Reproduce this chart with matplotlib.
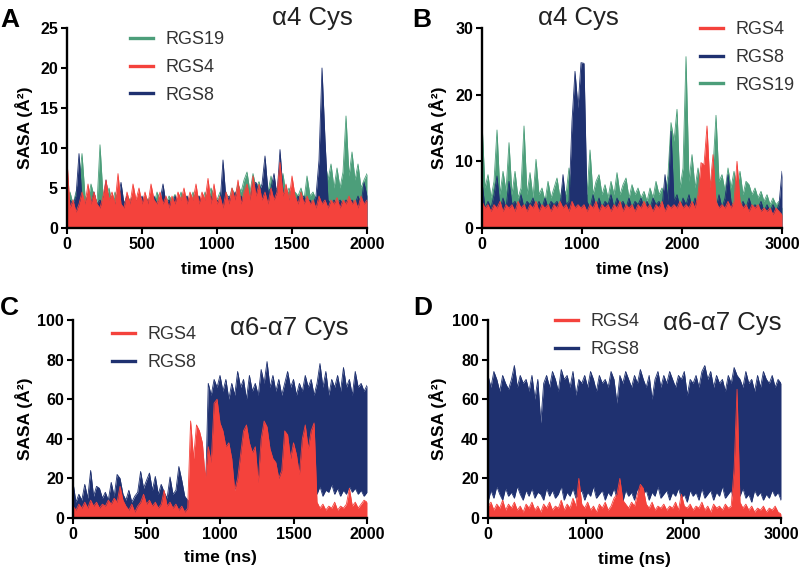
import numpy as np
import matplotlib.pyplot as plt

plt.rcParams['font.family'] = ['Liberation Sans', 'DejaVu Sans']

RED = '#f4423c'
NAVY = '#1f3170'
GREEN = '#4c9e7a'

# ---- panel A : alpha4 Cys, 2000 ns (sampled every 20 ns) ----
a_rgs4 = [8.5, 2.5, 3.5, 2, 3, 4.5, 3, 5.5, 3, 4.5,
          3, 2.5, 4, 6, 3.5, 4.5, 3, 6.8, 3, 2.5,
          4.5, 3, 5.5, 3.5, 5, 3, 4.5, 3, 5.5, 3.5,
          3, 4.5, 3, 4, 2.5, 4, 3, 4.5, 3.5, 5,
          3, 4.5, 3.5, 5.5, 3, 4.5, 3.5, 6.2, 3, 5.5,
          3, 4, 2.5, 4.5, 3, 5, 3.5, 6, 3, 4.5,
          5.5, 3.5, 6.5, 4, 5.5, 3.5, 4.5, 3, 5, 3.5,
          4.5, 8.2, 4, 5.5, 3.5, 6.5, 4, 3, 4.5, 3,
          4, 3, 3.5, 2.5, 4, 3, 3.5, 2.5, 3.5, 3,
          3.8, 2.5, 3.5, 3, 4, 3, 3.5, 2.5, 4, 3,
          3.5]
a_rgs19 = [3, 4.5, 3, 4.5, 5.5, 9.3, 4, 3.5, 5.5, 4,
           3, 10.4, 4, 3.5, 5, 3, 4.5, 3.5, 4, 3,
           4, 3.5, 4, 3, 4.2, 3, 4, 3.5, 4, 3,
           4.5, 3.5, 4, 3, 4, 3.5, 4.2, 3, 4.5, 3.5,
           4, 3, 4.5, 3.5, 4, 3, 4.5, 3.5, 5, 4,
           3.5, 4.5, 3, 4.5, 3.5, 5, 4, 5.5, 4.5, 6,
           7, 4.5, 6.8, 5, 5.8, 4.5, 5.5, 4.5, 6.5, 4.5,
           5, 4.5, 6.8, 4, 5, 4, 4.5, 4, 5, 3.5,
           6.5, 4, 4.5, 3.5, 5, 4, 8.5, 6, 8, 5,
           7.5, 5, 7, 14, 6.5, 9.5, 6, 8, 5, 6,
           6.8]
a_rgs8 = [3, 3.5, 3, 4, 9.3, 3.5, 3, 4, 3, 4.5,
          3, 3.5, 3, 6, 3, 4, 3, 3.5, 5.7, 3,
          4, 3, 4, 3.5, 3, 4, 3, 3.5, 3, 4,
          3, 3.5, 5.5, 3, 3.5, 3, 4, 3, 3.5, 3,
          4, 3, 3.5, 3, 4, 3, 3.5, 3, 4, 3,
          3.5, 3, 8.5, 3.5, 4, 3, 4.5, 3.5, 4, 3.5,
          4.5, 3.5, 5.5, 5.7, 4.5, 5.5, 9, 4.5, 5, 6.8,
          4, 9.8, 4.5, 4, 3.5, 4, 3, 4, 3.5, 4,
          3, 3.5, 3, 4, 8.5, 20, 11, 3.5, 3, 3.5,
          3, 3.5, 3, 3.5, 3, 3.5, 3, 4, 3, 5.7,
          4]

# ---- panel B : alpha4 Cys, 3000 ns (sampled every 30 ns) ----
b_rgs4 = [4, 3, 3.5, 2.5, 3.5, 3, 4, 2.5, 3.5, 3,
          3.5, 2.5, 4, 3, 3.5, 2.5, 3.5, 3, 4, 2.5,
          3.5, 3, 3.5, 2.5, 3.5, 3, 4, 3, 3.5, 2.5,
          4, 3, 3.5, 3, 3.5, 2.5, 3.5, 3, 4, 2.5,
          3.5, 3, 3.5, 2.5, 3.5, 3, 4, 2.5, 3.5, 3,
          3.5, 2.5, 3.5, 3, 4, 3, 3.5, 2.5, 3.5, 3,
          4, 2.5, 3.5, 3, 3.5, 3, 4, 3, 3.5, 3,
          4, 3, 5, 9.8, 9.5, 15.3, 6, 11, 4, 3,
          3.5, 3, 4, 3, 4, 10, 4, 3, 3.5, 2.5,
          3.5, 3, 3.5, 2.5, 3, 2.5, 3, 2, 3, 2.5,
          2]
b_rgs19 = [16, 6, 8, 4.5, 7, 14.7, 5, 8.5, 5.5, 12.8,
           5, 8.5, 4.5, 6, 15.3, 5, 8.3, 4.5, 10.3, 5,
           6, 4, 7, 4.5, 6, 7.5, 4.5, 6.5, 5, 9,
           5, 4.5, 5, 4.5, 6, 5, 11.7, 5, 7, 8,
           5, 6.5, 4.5, 7, 5, 8.3, 5, 6.5, 7.5, 4.5,
           6.5, 5, 6, 4.5, 5.5, 4, 6, 4.5, 7, 5,
           6, 5, 8, 15.8, 13, 17.8, 6, 9, 25.7, 7,
           11, 6, 9, 6, 8, 7, 6, 9, 16.9, 7,
           8, 5.5, 9, 6, 8.5, 6, 8.5, 5, 7, 6.5,
           5, 6, 4.5, 5.5, 4, 5, 3.5, 4.5, 3.5, 4,
           3]
b_rgs8 = [7, 3, 4, 3, 5, 7.8, 3, 4.5, 3, 7,
          3.5, 4, 3, 5, 3, 4, 3.5, 4.5, 3, 4,
          3, 4.5, 3, 4, 3.5, 4, 3, 8, 3.5, 4,
          16, 23.5, 18, 24.8, 24.7, 4, 3, 5, 3, 4.5,
          3, 4, 3.5, 5, 3, 4.5, 3.5, 4, 3, 4.5,
          3, 4, 3.5, 4.5, 3, 4, 3, 4.5, 3.5, 4,
          3, 8, 4, 14.5, 4, 5, 3, 4.5, 3.5, 5,
          3, 4.5, 3.5, 4, 3, 5, 3.5, 4, 3, 5,
          3, 4.5, 8, 4, 3, 4.5, 3, 4, 3, 4.5,
          3, 3.5, 3, 4, 2.5, 3.5, 2.5, 3.5, 2.5, 3.5,
          8.5]

# ---- panel C : alpha6-alpha7 Cys, 2000 ns (every 20 ns) ----
c_rgs4 = [6, 4, 7, 5, 8, 5, 9, 6, 8, 5,
          7, 6, 9, 7, 10, 8, 16, 9, 6, 4,
          7, 3, 6, 8, 12, 7, 9, 6, 8, 5,
          7, 14, 6, 8, 5, 7, 4, 6, 3, 5,
          49, 30, 47, 44, 38, 20, 36, 28, 58, 60,
          48, 44, 36, 38, 30, 14, 20, 32, 44, 47,
          38, 33, 36, 18, 40, 49, 46, 35, 30, 28,
          20, 24, 44, 42, 30, 38, 32, 22, 40, 47,
          35, 44, 48, 8, 5, 7, 4, 6, 5, 8,
          4, 6, 5, 7, 15, 6, 8, 5, 7, 9,
          8]
c_rgs8_hi = [18, 8, 12, 9, 17, 10, 24, 11, 16, 15,
             10, 13, 9, 18, 11, 22, 20, 12, 9, 14,
             8, 11, 13, 23.5, 15, 19, 22.7, 14, 21, 12,
             17, 13, 10, 20.7, 12, 14, 26, 19, 11, 9,
             8, 10, 12, 9, 11, 8, 68, 62, 70, 66,
             72, 64, 70, 60, 68, 62, 74, 66, 70, 60,
             72, 64, 68, 62, 75, 68, 79, 66, 72, 64,
             70, 62, 68, 74, 66, 70, 62, 68, 64, 72,
             66, 70, 62, 68, 78, 66, 74, 62, 70, 66,
             72, 64, 76, 66, 70, 62, 74, 66, 68, 64,
             67]
c_rgs8_lo = [0] * 46 + [14, 10, 12, 9,
             12, 15, 11, 13, 12, 16, 12, 14, 10, 13,
             11, 15, 12, 10, 14, 11, 13, 12, 15, 10,
             13, 11, 16, 12, 14, 10, 13, 12, 16, 14,
             12, 15, 18, 12, 16, 11, 14, 13, 17, 12,
             15, 11, 14, 12, 16, 13, 15, 12, 14, 11,
             13]

# ---- panel D : alpha6-alpha7 Cys, 3000 ns (every 30 ns) ----
d_rgs4 = [6, 8, 4, 7, 5, 9, 4, 7, 5, 8,
          4, 6, 3, 7, 5, 8, 4, 6, 3, 7,
          5, 8, 4, 6, 5, 9, 4, 7, 5, 10,
          6, 20, 7, 5, 8, 4, 6, 3, 7, 5,
          8, 4, 6, 10, 12, 20, 9, 7, 5, 8,
          6, 12, 17, 15, 7, 5, 8, 4, 6, 5,
          7, 4, 6, 5, 8, 4, 12, 6, 5, 7,
          4, 6, 5, 8, 4, 6, 3, 7, 5, 6,
          4, 7, 5, 6, 25, 65, 8, 5, 7, 4,
          6, 3, 5, 4, 6, 3, 5, 4, 6, 3,
          2]
d_rgs8_hi = [72, 66, 74, 70, 64, 72, 68, 65, 70, 77,
             66, 72, 68, 70, 64, 72, 60, 70, 48, 68,
             72, 66, 74, 70, 64, 75, 70, 72, 66, 74,
             62, 70, 68, 72, 66, 74, 70, 64, 72, 68,
             70, 66, 74, 70, 58, 72, 68, 74, 70, 66,
             72, 68, 75, 70, 66, 72, 60, 70, 74, 66,
             72, 68, 74, 70, 66, 72, 70, 74, 62, 70,
             68, 72, 66, 74, 77, 70, 74, 66, 72, 68,
             70, 64, 72, 68, 76, 72, 70, 66, 74, 68,
             70, 64, 72, 66, 74, 70, 68, 72, 66, 70,
             68]
d_rgs8_lo = [8, 14, 10, 16, 12, 9, 15, 11, 13, 10,
             16, 12, 9, 14, 11, 15, 10, 13, 12, 9,
             15, 11, 14, 10, 12, 16, 9, 13, 11, 15,
             10, 12, 14, 9, 13, 11, 16, 10, 12, 14,
             9, 13, 11, 15, 10, 12, 8, 14, 11, 13,
             9, 15, 10, 12, 14, 9, 13, 11, 16, 10,
             12, 14, 9, 13, 11, 15, 10, 12, 8, 14,
             11, 13, 9, 15, 10, 12, 14, 9, 13, 11,
             16, 10, 12, 14, 9, 13, 11, 15, 10, 12,
             8, 14, 11, 13, 9, 12, 10, 14, 11, 13,
             9]


def trace(ax, tmax, hi, color, z, lo=None):
    t = np.linspace(0, tmax, len(hi))
    base = 0 if lo is None else lo
    ax.fill_between(t, base, hi, color=color, lw=0, zorder=z)
    ax.plot(t, hi, color=color, lw=0.6, zorder=z + 0.1)
    if lo is not None:
        ax.plot(t, lo, color=color, lw=0.6, zorder=z + 0.1)


def style(ax, xmax, xstep, ymax, ystep, ylab_x, xlab_y):
    ax.set_xlim(0, xmax)
    ax.set_ylim(0, ymax)
    ax.set_xticks(np.arange(0, xmax + 1, xstep))
    ax.set_yticks(np.arange(0, ymax + 1, ystep))
    for s in ['top', 'right']:
        ax.spines[s].set_visible(False)
    for s in ['left', 'bottom']:
        ax.spines[s].set_linewidth(1.7)
        ax.spines[s].set_zorder(5)
    ax.tick_params(direction='out', length=4.5, width=1.5, pad=2, labelsize=11.5)
    for lab in ax.get_xticklabels() + ax.get_yticklabels():
        lab.set_fontweight('bold')
    ax.set_xlabel('time (ns)', fontsize=12.5, fontweight='bold')
    ax.set_ylabel('SASA (Å²)', fontsize=12.5, fontweight='bold')
    ax.yaxis.set_label_coords(ylab_x, 0.5)
    ax.xaxis.set_label_coords(0.5, xlab_y)


def legend(ax, names, colors, x, y):
    hs = [ax.plot([], [], color=c, lw=2.4)[0] for c in colors]
    ax.legend(hs, names, loc='upper left', bbox_to_anchor=(x / 800, 1 - y / 569),
              bbox_transform=fig.transFigure, frameon=False, fontsize=13,
              handlelength=1.3, handletextpad=0.65, labelspacing=0.6,
              borderpad=0, borderaxespad=0, labelcolor='#333333')


fig = plt.figure(figsize=(8, 5.69), dpi=100)

axA = fig.add_axes([67 / 800, 341 / 569, 300 / 800, 200 / 569])
trace(axA, 2000, a_rgs19, GREEN, 1)
trace(axA, 2000, a_rgs8, NAVY, 2)
trace(axA, 2000, a_rgs4, RED, 3)
style(axA, 2000, 500, 25, 5, -0.113, -0.17)
legend(axA, ['RGS19', 'RGS4', 'RGS8'], [GREEN, RED, NAVY], 130, 31)

axB = fig.add_axes([482 / 800, 341 / 569, 300 / 800, 200 / 569])
trace(axB, 3000, b_rgs19, GREEN, 1)
trace(axB, 3000, b_rgs8, NAVY, 2)
trace(axB, 3000, b_rgs4, RED, 3)
style(axB, 3000, 1000, 30, 10, -0.117, -0.17)
legend(axB, ['RGS4', 'RGS8', 'RGS19'], [RED, NAVY, GREEN], 700, 21)

axC = fig.add_axes([73 / 800, 51 / 569, 294 / 800, 198 / 569])
trace(axC, 2000, c_rgs8_hi, NAVY, 1, c_rgs8_lo)
trace(axC, 2000, c_rgs4, RED, 2)
style(axC, 2000, 500, 100, 20, -0.136, -0.16)
legend(axC, ['RGS4', 'RGS8'], [RED, NAVY], 112, 326)

axD = fig.add_axes([488 / 800, 51 / 569, 293 / 800, 198 / 569])
trace(axD, 3000, d_rgs8_hi, NAVY, 1, d_rgs8_lo)
trace(axD, 3000, d_rgs4, RED, 2)
style(axD, 3000, 1000, 100, 20, -0.14, -0.17)
legend(axD, ['RGS4', 'RGS8'], [RED, NAVY], 555, 313)

# titles and panel letters
for x, y, s in [(272, 18, 'α4 Cys'), (538, 18, 'α4 Cys'),
                (230, 328, 'α6-α7 Cys'), (663, 323, 'α6-α7 Cys')]:
    fig.text(x / 800, 1 - y / 569, s, fontsize=18.5, ha='left', va='center', color='#222222')
for x, y, s in [(0, 20, 'A'), (412, 20, 'B'), (0, 308, 'C'), (413, 308, 'D')]:
    fig.text(x / 800, 1 - y / 569, s, fontsize=19, fontweight='bold', ha='left', va='center')

fig.savefig('out.png', dpi=100)
